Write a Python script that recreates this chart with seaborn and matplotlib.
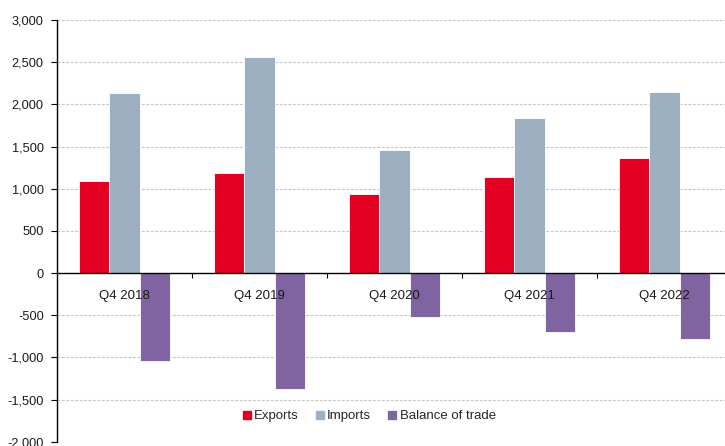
import matplotlib
matplotlib.use("Agg")
import matplotlib.pyplot as plt
from matplotlib.ticker import FuncFormatter, FixedLocator
from matplotlib.lines import Line2D
import seaborn as sns
import pandas as pd

quarters = ["Q4 2018", "Q4 2019", "Q4 2020", "Q4 2021", "Q4 2022"]
series_names = ["Exports", "Imports", "Balance of trade"]
exports = [1095, 1190, 937, 1139, 1368]
imports = [2132, 2559, 1455, 1835, 2147]
balance = [-1040, -1370, -517, -698, -782]
colors = ["#E30022", "#9DB0C1", "#8064A2"]
y_ticks = [-2000, -1500, -1000, -500, 0, 500, 1000, 1500, 2000, 2500, 3000]

rows = []
for name, vals in zip(series_names, [exports, imports, balance]):
    for q, v in zip(quarters, vals):
        rows.append({"quarter": q, "series": name, "value": v})
df = pd.DataFrame(rows)

sns.set_theme(style="white")
plt.rcParams["font.family"] = ["Liberation Sans", "DejaVu Sans"]
plt.rcParams["axes.unicode_minus"] = False

fig = plt.figure(figsize=(7.25, 4.46), dpi=100)
ax = fig.add_axes([57 / 725, 4.3 / 446, 675 / 725, 421.7 / 446])

sns.barplot(data=df, x="quarter", y="value", hue="series", order=quarters,
            hue_order=series_names, palette=colors, width=0.667, gap=0,
            saturation=1, edgecolor="white", linewidth=0.6, legend=False,
            ax=ax, zorder=2)

ax.set_xlim(-0.5, len(quarters) - 0.5)
ax.set_ylim(-2000, 3000)
ax.yaxis.set_major_locator(FixedLocator(y_ticks))
ax.yaxis.set_major_formatter(FuncFormatter(lambda v, p: f"{v:,.0f}"))
ax.tick_params(axis="y", which="major", length=4, width=0.8, color="black",
               pad=5.5, labelsize=9.2, labelcolor="#1a1a1a", left=True, direction="out")

for yv in y_ticks:
    if yv != 0:
        ax.axhline(yv, color="#C4C4C4", lw=0.8, ls=(0, (2.5, 1.5)), zorder=0.5)

ax.spines["bottom"].set_position(("data", 0))
ax.spines["bottom"].set_color("black")
ax.spines["bottom"].set_linewidth(1.0)
ax.spines["left"].set_color("black")
ax.spines["left"].set_linewidth(1.0)
ax.spines["top"].set_visible(False)
ax.spines["right"].set_visible(False)

ax.set_xticks(range(len(quarters)))
ax.set_xticklabels(quarters)
ax.set_xticks([i + 0.5 for i in range(len(quarters) - 1)], minor=True)
ax.tick_params(axis="x", which="major", length=0, pad=12.5, labelsize=9.5, labelcolor="#1a1a1a")
ax.tick_params(axis="x", which="minor", length=3.5, width=0.8, color="black", bottom=True, direction="out")
ax.xaxis.set_zorder(5)
ax.set_xlabel("")
ax.set_ylabel("")

handles = [Line2D([0], [0], marker="s", linestyle="none", markersize=6,
                  markerfacecolor=c, markeredgecolor=c) for c in colors]
leg = ax.legend(handles, series_names, loc="center", bbox_to_anchor=(369 / 725, (446 - 416) / 446),
                bbox_transform=fig.transFigure, ncol=3, frameon=False, fontsize=9.5,
                handlelength=0.7, handletextpad=0.2, columnspacing=1.25)

fig.savefig("out.png", dpi=100)
